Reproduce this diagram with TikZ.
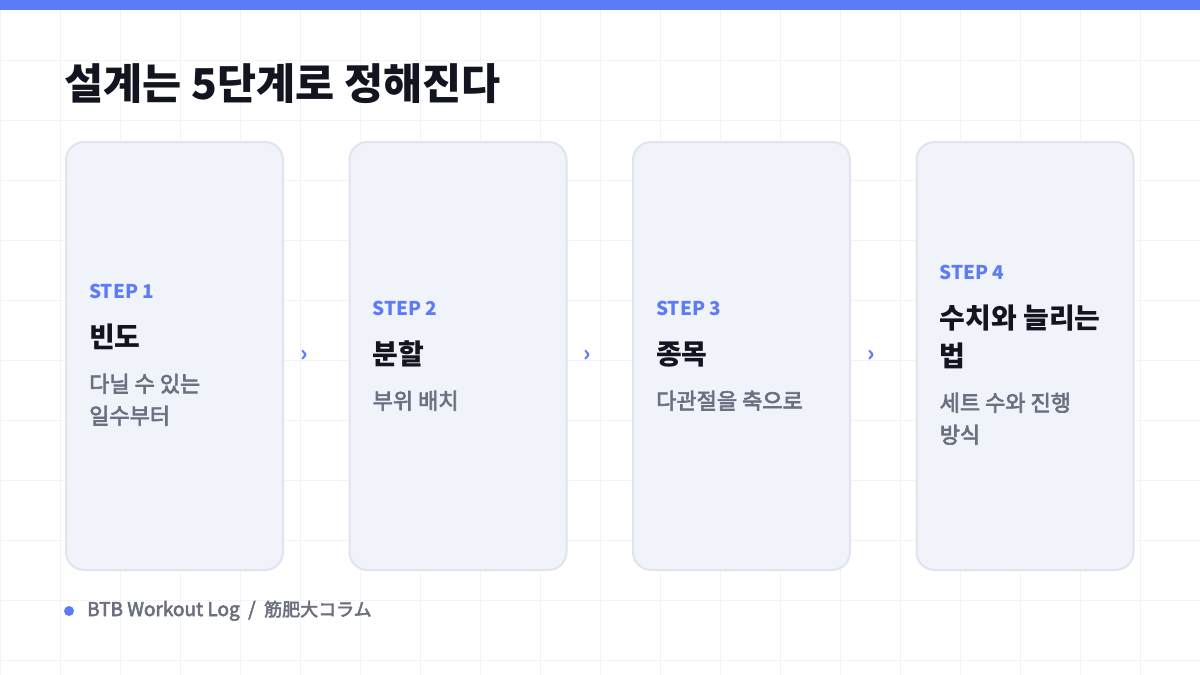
\documentclass[tikz,border=0pt]{standalone}
\usepackage{fontspec}
\setmainfont{Noto Sans CJK KR}
\newfontfamily\medfont{Noto Sans CJK KR}[FakeBold=3]
\IfFontExistsTF{Noto Sans CJK KR Black}
  {\newfontfamily\heavyfont{Noto Sans CJK KR Black}}
  {\newfontfamily\heavyfont{Noto Sans CJK KR Bold}[FakeBold=3]}
\newfontfamily\jpfont{Noto Sans CJK JP}[FakeBold=3]
\usepackage{xcolor}
\usetikzlibrary{positioning}
\definecolor{accent}{HTML}{5B7CF6}
\definecolor{ink}{HTML}{12141F}
\definecolor{muted}{HTML}{6B6F80}
\definecolor{cardfill}{HTML}{F1F3FB}
\definecolor{cardline}{HTML}{E0E4EF}
\definecolor{gridline}{HTML}{F3F4F7}

\begin{document}
\begin{tikzpicture}[
x=1pt, y=-1pt,
card/.style={draw=cardline, line width=2pt, fill=cardfill, rounded corners=18pt,
  minimum width=217pt, minimum height=428pt, inner sep=0pt},
steplabel/.style={anchor=base west, inner sep=0pt, text=accent,
  font=\bfseries\fontsize{19}{24}\selectfont},
stepname/.style={anchor=base west, inner sep=0pt, text=ink,
  font=\bfseries\fontsize{28}{32}\selectfont},
stepdesc/.style={anchor=base west, inner sep=0pt, text=muted,
  font=\medfont\fontsize{22}{26}\selectfont},
chev/.style={inner sep=0pt, text=accent, font=\bfseries\fontsize{22}{22}\selectfont},
dot/.style={circle, fill=accent, inner sep=0pt, minimum size=10pt}
]
\useasboundingbox (0,0) rectangle (1200,675);
\fill[white] (0,0) rectangle (1200,675);
\draw[gridline, line width=1pt] (0,0) grid[step=60pt] (1200,675);

% top bar and title
\fill[accent] (0,0) rectangle (1200,10);
\node[anchor=base west, inner sep=0pt, text=ink, font=\heavyfont\fontsize{42.5}{50}\selectfont]
  (title) at (64,99) {설계는 5단계로 정해진다};

% cards
\foreach \i/\cx in {1/174.5, 2/458, 3/741.5, 4/1025}
  \node[card] (card\i) at (\cx,356) {};

% chevrons between the cards
\foreach \i in {1,2,3}
  \node[chev, right=16pt of card\i] (chev\i) {›};

% step 1
\node[steplabel] (step1) at (89,298) {STEP 1};
\node[stepname] (name1) at (89,347) {빈도};
\node[stepdesc] (desc1a) at (89,392) {다닐 수 있는};
\node[stepdesc] (desc1b) at (89,424) {일수부터};

% step 2
\node[steplabel] (step2) at (372.5,315) {STEP 2};
\node[stepname] (name2) at (372.5,364) {분할};
\node[stepdesc] (desc2a) at (372.5,409) {부위 배치};

% step 3
\node[steplabel] (step3) at (656,315) {STEP 3};
\node[stepname] (name3) at (656,364) {종목};
\node[stepdesc] (desc3a) at (656,409) {다관절을 축으로};

% step 4
\node[steplabel] (step4) at (939.5,279) {STEP 4};
\node[stepname] (name4a) at (939.5,328) {수치와 늘리는};
\node[stepname] (name4b) at (939.5,366) {법};
\node[stepdesc] (desc4a) at (939.5,411) {세트 수와 진행};
\node[stepdesc] (desc4b) at (939.5,443) {방식};

% footer
\node[dot] (bullet) at (69,611) {};
\node[anchor=base west, inner sep=0pt, text=muted, font=\medfont\fontsize{19}{22}\selectfont]
  (source) at (87,616) {BTB Workout Log\hspace{8.5pt}/\hspace{8.5pt}{\jpfont\fontsize{18}{22}\selectfont 筋肥大コラム}};

\end{tikzpicture}
\end{document}
